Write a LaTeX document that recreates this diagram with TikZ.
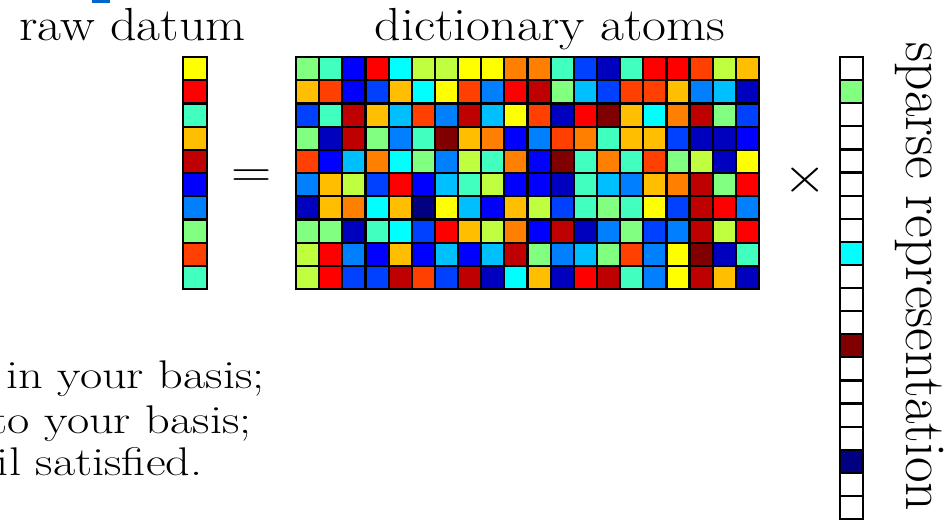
\documentclass[tikz,border=0pt]{standalone}
\usepackage{xcolor}
\usepackage{graphicx}
\usepackage{tikz}
\usetikzlibrary{positioning}

\definecolor{jet0}{rgb}{0,0,0.5}
\definecolor{jet1}{rgb}{0,0,0.75}
\definecolor{jet2}{rgb}{0,0,1}
\definecolor{jet3}{rgb}{0,0.25,1}
\definecolor{jet4}{rgb}{0,0.5,1}
\definecolor{jet5}{rgb}{0,0.75,1}
\definecolor{jet6}{rgb}{0,1,1}
\definecolor{jet7}{rgb}{0.25,1,0.75}
\definecolor{jet8}{rgb}{0.5,1,0.5}
\definecolor{jet9}{rgb}{0.75,1,0.25}
\definecolor{jet10}{rgb}{1,1,0}
\definecolor{jet11}{rgb}{1,0.75,0}
\definecolor{jet12}{rgb}{1,0.5,0}
\definecolor{jet13}{rgb}{1,0.25,0}
\definecolor{jet14}{rgb}{1,0,0}
\definecolor{jet15}{rgb}{0.75,0,0}
\definecolor{jet16}{rgb}{0.5,0,0}
\definecolor{jetw}{rgb}{1,1,1}
\definecolor{linkblue}{rgb}{0,0.4,0.8}

\newcommand{\hstretch}[1]{\scalebox{1.12}[1]{#1}}
\newcommand{\notestretch}[1]{\scalebox{1.21}[1]{#1}}
\newcommand{\vstretch}[1]{\scalebox{1}[1.04]{#1}}
\newcommand{\labelfont}{\fontsize{23.2}{27}\selectfont}
\newcommand{\sparsefont}{\fontsize{27.8}{32}\selectfont}
\newcommand{\notefont}{\fontsize{20}{24}\selectfont}

\begin{document}
\begin{tikzpicture}[
  x=0.5pt, y=-0.5pt,
  every node/.style={inner sep=0pt},
  cell/.style={draw=black, line width=1.1pt},
  lbl/.style={font=\labelfont},
  note/.style={font=\notefont, anchor=base east}
]
\useasboundingbox (0,0) rectangle (952,521);
\fill[linkblue] (92,0) rectangle (110,3);

\node[lbl, anchor=base] (rawlbl)  at (132.5,40) {\hstretch{raw datum}};
\node[lbl, anchor=base] (dictlbl) at (550,40)   {\hstretch{dictionary atoms}};

\foreach \v [count=\r from 0] in {10,14,7,11,15,2,4,8,13,7}
  \filldraw[cell, fill=jet\v] (183,{57+\r*23.2}) rectangle ++(24,23.2);

\node[lbl] (eqsign) at (252,179) {\hstretch{$=$}};

\foreach \rowvals [count=\r from 0] in {
  {8,7,2,14,6,9,9,10,10,12,12,7,3,1,7,14,14,13,9,11},
  {11,13,2,3,11,6,10,13,4,14,15,8,5,3,13,13,11,4,5,1},
  {3,7,15,11,5,13,4,15,5,10,13,1,14,16,11,6,12,15,8,3},
  {8,1,15,8,4,7,16,11,12,2,4,13,12,7,11,11,3,1,1,2},
  {13,2,5,12,6,8,4,9,7,12,2,16,7,12,7,13,8,9,1,10},
  {4,11,9,3,14,2,5,7,9,2,2,1,7,5,4,11,12,15,8,14},
  {1,11,12,6,11,0,10,5,2,11,9,3,7,8,7,10,3,15,14,4},
  {8,8,1,7,6,3,14,11,9,12,2,15,1,4,8,3,4,15,9,14},
  {9,14,4,2,11,2,5,2,5,15,8,4,5,8,13,4,10,16,1,7},
  {9,14,3,3,15,13,3,15,1,6,11,1,14,15,7,4,10,15,11,1}}
  \foreach \v [count=\c from 0] in \rowvals
    \filldraw[cell, fill=jet\v] ({296+\c*23.15},{57+\r*23.2}) rectangle ++(23.15,23.2);

\node[lbl] (timessign) at (805,180) {\hstretch{$\times$}};

\foreach \v [count=\r from 0] in {w,8,w,w,w,w,w,w,6,w,w,w,16,w,w,w,w,0,w,w}
  \filldraw[cell, fill=jet\v] (840,{57+\r*23.1}) rectangle ++(23,23.1);

\node[font=\sparsefont, rotate=-90, anchor=base] (sparselbl) at (906,277)
  {\vstretch{sparse representation}};

\node[note] (noteA) at (265,388.5) {\notestretch{in your basis;}};
\node[note] (noteB) at (252,433.5) {\notestretch{to your basis;}};
\node[note] (noteC) at (203,475.5) {\notestretch{il satisfied.}};
\end{tikzpicture}
\end{document}
